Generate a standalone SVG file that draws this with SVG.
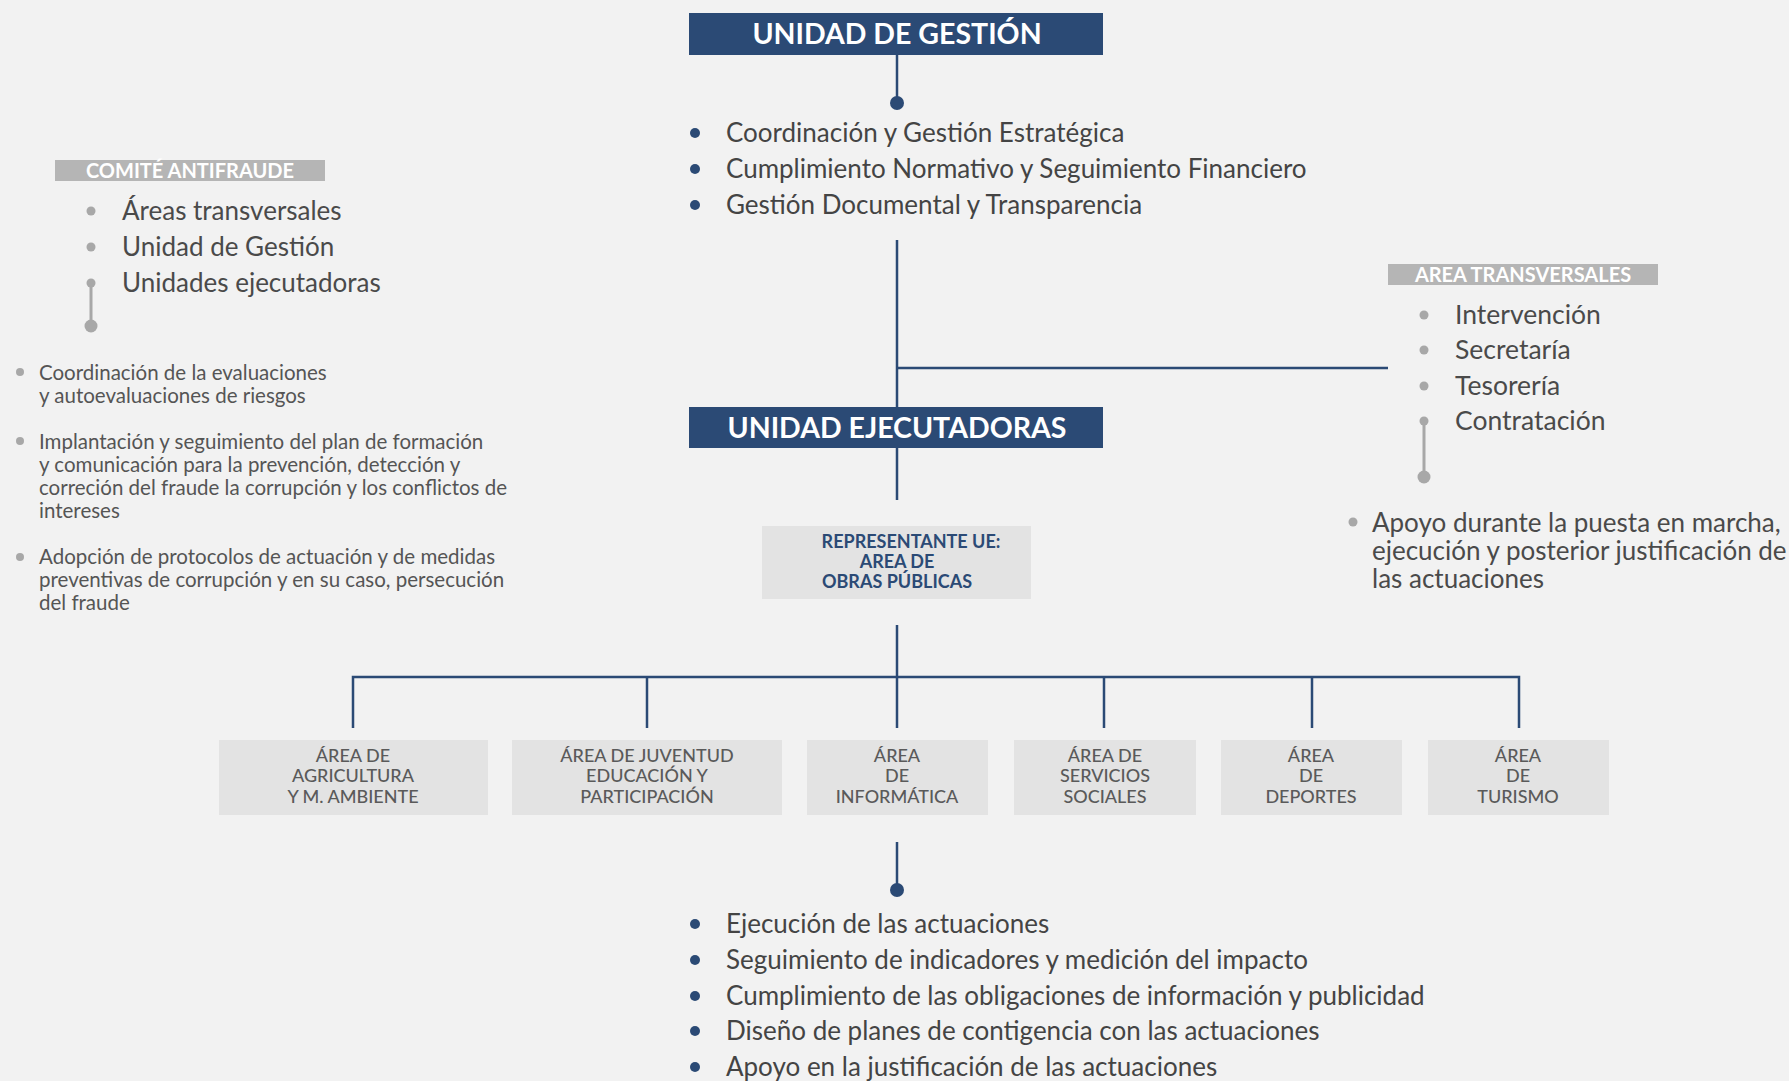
<svg xmlns="http://www.w3.org/2000/svg" width="1789" height="1081" viewBox="0 0 1789 1081">
<style>
text{font-family:Lato,"Open Sans","Liberation Sans",sans-serif}
.hdr{fill:#2b4a75}
.hdrt{fill:#fff;font-size:28.5px;font-weight:700;text-anchor:middle}
.lbl{fill:#b5b5b5}
.lblt{fill:#fff;font-size:20px;font-weight:700;text-anchor:middle}
.big{fill:#444;font-size:26px}
.mid{fill:#4a4a4a;font-size:26px}
.rt{fill:#4a4a4a;font-size:26.5px}
.par{fill:#4a4a4a;font-size:26px}
.sm{fill:#555;font-size:20.5px}
.box{fill:#e3e3e3}
.boxt{fill:#5a5a5a;font-size:18px;text-anchor:middle;font-weight:500}
.rept{fill:#2b4a75;font-size:18px;font-weight:700;text-anchor:middle}
.bd{fill:#2b4a75}
.gd{fill:#a8a8a8}
.bl{stroke:#2b4a75;stroke-width:2.5;fill:none}
.gl{stroke:#a8a8a8;stroke-width:3;fill:none}
</style>
<rect width="1789" height="1081" fill="#f2f2f2"/>
<g id="connectors">
<line class="bl" x1="897" y1="55" x2="897" y2="103"/>
<circle class="bd" cx="897" cy="103" r="7"/>
<line class="bl" x1="897" y1="240" x2="897" y2="500"/>
<line class="bl" x1="897" y1="368" x2="1388" y2="368"/>
<line class="bl" x1="897" y1="625" x2="897" y2="677"/>
<polyline class="bl" points="353,728 353,677 1519,677 1519,728"/>
<line class="bl" x1="647" y1="677" x2="647" y2="728"/>
<line class="bl" x1="897" y1="677" x2="897" y2="728"/>
<line class="bl" x1="1104" y1="677" x2="1104" y2="728"/>
<line class="bl" x1="1312" y1="677" x2="1312" y2="728"/>
<line class="bl" x1="897" y1="842" x2="897" y2="890"/>
<circle class="bd" cx="897" cy="890" r="7"/>
<line class="gl" x1="91" y1="283" x2="91" y2="326"/>
<circle class="gd" cx="91" cy="326" r="6.5"/>
<line class="gl" x1="1424" y1="421" x2="1424" y2="477"/>
<circle class="gd" cx="1424" cy="477" r="6.5"/>
</g>
<g id="unidad-gestion">
<rect class="hdr" x="689" y="13" width="414" height="42"/>
<text class="hdrt" x="897" y="44">UNIDAD DE GESTIÓN</text>
</g>
<g id="gestion-list">
<circle class="bd" cx="695" cy="133" r="5"/>
<circle class="bd" cx="695" cy="169" r="5"/>
<circle class="bd" cx="695" cy="205" r="5"/>
<text class="big" x="726" y="142">Coordinación y Gestión Estratégica</text>
<text class="big" x="726" y="178">Cumplimiento Normativo y Seguimiento Financiero</text>
<text class="big" x="726" y="214">Gestión Documental y Transparencia</text>
</g>
<g id="comite">
<rect class="lbl" x="55" y="160" width="270" height="21"/>
<text class="lblt" x="190" y="178">COMITÉ ANTIFRAUDE</text>
<circle class="gd" cx="91" cy="211" r="4.5"/>
<circle class="gd" cx="91" cy="247" r="4.5"/>
<circle class="gd" cx="91" cy="283" r="4.5"/>
<text class="mid" x="122" y="220">Áreas transversales</text>
<text class="mid" x="122" y="256">Unidad de Gestión</text>
<text class="mid" x="122" y="292">Unidades ejecutadoras</text>
</g>
<g id="comite-funciones">
<circle class="gd" cx="20" cy="372" r="4"/>
<text class="sm" x="39" y="380">Coordinación de la evaluaciones</text>
<text class="sm" x="39" y="403">y autoevaluaciones de riesgos</text>
<circle class="gd" cx="20" cy="441" r="4"/>
<text class="sm" x="39" y="449">Implantación y seguimiento del plan de formación</text>
<text class="sm" x="39" y="472">y comunicación para la prevención, detección y</text>
<text class="sm" x="39" y="495">correción del fraude la corrupción y los conflictos de</text>
<text class="sm" x="39" y="518">intereses</text>
<circle class="gd" cx="20" cy="557" r="4"/>
<text class="sm" x="39" y="564">Adopción de protocolos de actuación y de medidas</text>
<text class="sm" x="39" y="587">preventivas de corrupción y en su caso, persecución</text>
<text class="sm" x="39" y="610">del fraude</text>
</g>
<g id="area-transversales">
<rect class="lbl" x="1388" y="264" width="270" height="21"/>
<text class="lblt" x="1523" y="282">AREA TRANSVERSALES</text>
<circle class="gd" cx="1424" cy="315" r="4.5"/>
<circle class="gd" cx="1424" cy="350" r="4.5"/>
<circle class="gd" cx="1424" cy="386" r="4.5"/>
<circle class="gd" cx="1424" cy="421" r="4.5"/>
<text class="rt" x="1455" y="324">Intervención</text>
<text class="rt" x="1455" y="359">Secretaría</text>
<text class="rt" x="1455" y="395">Tesorería</text>
<text class="rt" x="1455" y="430">Contratación</text>
<circle class="gd" cx="1353" cy="522" r="4.5"/>
<text class="par" x="1372" y="532">Apoyo durante la puesta en marcha,</text>
<text class="par" x="1372" y="560">ejecución y posterior justificación de</text>
<text class="par" x="1372" y="588">las actuaciones</text>
</g>
<g id="unidad-ejecutadoras">
<rect class="hdr" x="689" y="407" width="414" height="41"/>
<text class="hdrt" x="897" y="438">UNIDAD EJECUTADORAS</text>
</g>
<g id="representante">
<rect class="box" x="762" y="526" width="269" height="73"/>
<text class="rept" x="911" y="548">REPRESENTANTE UE:</text>
<text class="rept" x="897" y="568">AREA DE</text>
<text class="rept" x="897" y="588">OBRAS PÚBLICAS</text>
</g>
<g id="area-agricultura">
<rect class="box" x="219" y="740" width="269" height="75"/>
<text class="boxt" x="353" y="762">ÁREA DE</text>
<text class="boxt" x="353" y="782">AGRICULTURA</text>
<text class="boxt" x="353" y="803">Y M. AMBIENTE</text>
</g>
<g id="area-juventud">
<rect class="box" x="512" y="740" width="270" height="75"/>
<text class="boxt" x="647" y="762">ÁREA DE JUVENTUD</text>
<text class="boxt" x="647" y="782">EDUCACIÓN Y</text>
<text class="boxt" x="647" y="803">PARTICIPACIÓN</text>
</g>
<g id="area-informatica">
<rect class="box" x="807" y="740" width="181" height="75"/>
<text class="boxt" x="897" y="762">ÁREA</text>
<text class="boxt" x="897" y="782">DE</text>
<text class="boxt" x="897" y="803">INFORMÁTICA</text>
</g>
<g id="area-servicios">
<rect class="box" x="1014" y="740" width="182" height="75"/>
<text class="boxt" x="1105" y="762">ÁREA DE</text>
<text class="boxt" x="1105" y="782">SERVICIOS</text>
<text class="boxt" x="1105" y="803">SOCIALES</text>
</g>
<g id="area-deportes">
<rect class="box" x="1221" y="740" width="181" height="75"/>
<text class="boxt" x="1311" y="762">ÁREA</text>
<text class="boxt" x="1311" y="782">DE</text>
<text class="boxt" x="1311" y="803">DEPORTES</text>
</g>
<g id="area-turismo">
<rect class="box" x="1428" y="740" width="181" height="75"/>
<text class="boxt" x="1518" y="762">ÁREA</text>
<text class="boxt" x="1518" y="782">DE</text>
<text class="boxt" x="1518" y="803">TURISMO</text>
</g>
<g id="ejecutadoras-list">
<circle class="bd" cx="695" cy="924" r="5"/>
<circle class="bd" cx="695" cy="960" r="5"/>
<circle class="bd" cx="695" cy="996" r="5"/>
<circle class="bd" cx="695" cy="1031" r="5"/>
<circle class="bd" cx="695" cy="1067" r="5"/>
<text class="big" x="726" y="933">Ejecución de las actuaciones</text>
<text class="big" x="726" y="969">Seguimiento de indicadores y medición del impacto</text>
<text class="big" x="726" y="1005">Cumplimiento de las obligaciones de información y publicidad</text>
<text class="big" x="726" y="1040">Diseño de planes de contigencia con las actuaciones</text>
<text class="big" x="726" y="1076">Apoyo en la justificación de las actuaciones</text>
</g>
</svg>
